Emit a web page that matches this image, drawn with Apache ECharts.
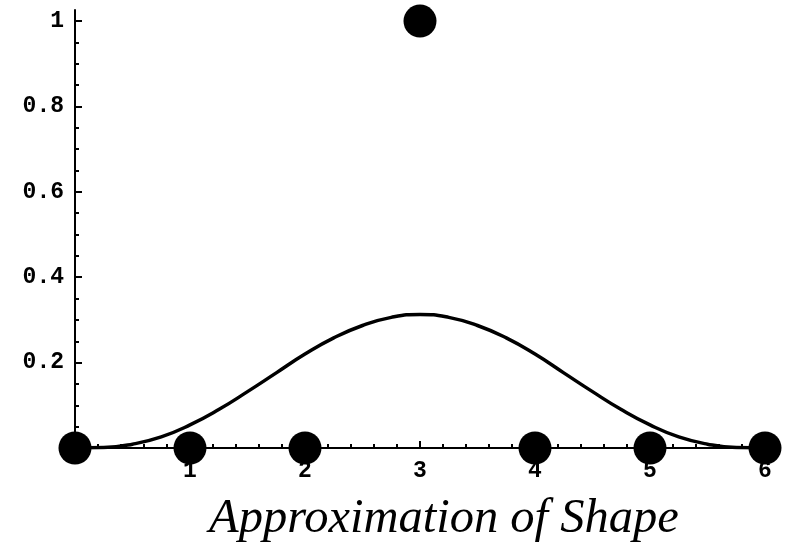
<!DOCTYPE html>
<html>
<head>
<meta charset="utf-8">
<script src="https://cdn.jsdelivr.net/npm/echarts@6/dist/echarts.min.js"></script>
<style>
  html, body { margin: 0; padding: 0; background: #fff; }
  #chart { width: 786px; height: 545px; }
</style>
</head>
<body>
<div id="chart"></div>
<script>
// Control points of the shape
const controlX = [0, 1, 2, 3, 4, 5, 6];
const controlY = [0, 0, 0, 1, 0, 0, 0];

// Approximating curve, sampled every 0.25 along x
const curveX = [0, 0.25, 0.5, 0.75, 1, 1.25, 1.5, 1.75, 2, 2.25, 2.5, 2.75, 3,
                3.25, 3.5, 3.75, 4, 4.25, 4.5, 4.75, 5, 5.25, 5.5, 5.75, 6];
const curveY = [0, 0.001, 0.009, 0.026, 0.054, 0.090, 0.132, 0.176, 0.220, 0.258, 0.287, 0.306, 0.313,
                0.306, 0.287, 0.258, 0.220, 0.176, 0.132, 0.090, 0.054, 0.026, 0.009, 0.001, 0];

// Tick labels and tick positions
const xLabels = [1, 2, 3, 4, 5, 6];
const yLabels = [0.2, 0.4, 0.6, 0.8, 1];
const yMajor = [0, 0.2, 0.4, 0.6, 0.8, 1];
const yMinor = [0.05, 0.1, 0.15, 0.25, 0.3, 0.35, 0.45, 0.5, 0.55, 0.65, 0.7, 0.75, 0.85, 0.9, 0.95];
const titleText = 'Approximation of Shape';

const monoFont = '"Liberation Mono", "DejaVu Sans Mono", monospace';
const yTop = 1.026;

const chart = echarts.init(document.getElementById('chart'), null, { renderer: 'canvas' });

chart.setOption({
  animation: false,
  backgroundColor: '#ffffff',
  title: {
    text: titleText,
    left: 209,
    top: 495,
    padding: 0,
    textStyle: {
      fontFamily: '"Liberation Serif", "Times New Roman", serif',
      fontStyle: 'italic',
      fontWeight: 'normal',
      fontSize: 48.5,
      color: '#000'
    }
  },
  grid: { left: 75, right: 21, top: 10, bottom: 97, containLabel: false },
  xAxis: {
    type: 'value',
    min: 0,
    max: 6,
    interval: 1,
    axisLine: { show: true, onZero: true, lineStyle: { color: '#000', width: 2 } },
    axisTick: { show: true, inside: true, length: 7, lineStyle: { color: '#000', width: 2 } },
    minorTick: { show: true, splitNumber: 5, length: 4, lineStyle: { color: '#000', width: 2 } },
    axisLabel: {
      show: true,
      margin: 12,
      color: '#000',
      fontFamily: monoFont,
      fontWeight: 'bold',
      fontSize: 23,
      customValues: xLabels
    },
    splitLine: { show: false }
  },
  yAxis: [
    {
      type: 'value',
      min: 0,
      max: yTop,
      position: 'left',
      axisLine: { show: true, onZero: false, lineStyle: { color: '#000', width: 2 } },
      axisTick: { show: true, inside: true, length: 7, lineStyle: { color: '#000', width: 2 }, customValues: yMajor },
      axisLabel: {
        show: true,
        margin: 11,
        color: '#000',
        fontFamily: monoFont,
        fontWeight: 'bold',
        fontSize: 23,
        customValues: yLabels
      },
      splitLine: { show: false }
    },
    {
      type: 'value',
      min: 0,
      max: yTop,
      position: 'left',
      offset: 0,
      axisLine: { show: false },
      axisTick: { show: true, inside: true, length: 4, lineStyle: { color: '#000', width: 2 }, customValues: yMinor },
      axisLabel: { show: false },
      splitLine: { show: false }
    }
  ],
  series: [
    {
      type: 'line',
      data: curveX.map((x, i) => [x, curveY[i]]),
      smooth: true,
      showSymbol: false,
      lineStyle: { color: '#000', width: 3.5 },
      z: 3
    },
    {
      type: 'scatter',
      data: controlX.map((x, i) => [x, controlY[i]]),
      symbol: 'circle',
      symbolSize: 33,
      itemStyle: { color: '#000', opacity: 1 },
      z: 4
    }
  ]
});
</script>
</body>
</html>
